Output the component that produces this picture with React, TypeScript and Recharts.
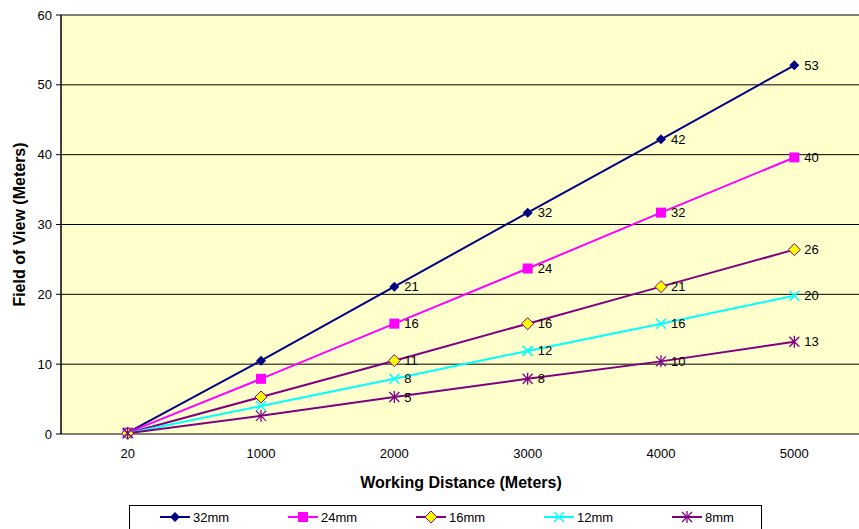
import React from 'react';
import { LineChart, Line, XAxis, YAxis, CartesianGrid, LabelList } from 'recharts';

// working distance categories (meters)
const categories = ['20', '1000', '2000', '3000', '4000', '5000'];
const fov32 = [0.2, 10.5, 21.1, 31.7, 42.2, 52.8];
const fov24 = [0.2, 7.9, 15.8, 23.7, 31.7, 39.6];
const fov16 = [0.1, 5.3, 10.5, 15.8, 21.1, 26.4];
const fov12 = [0.1, 4.0, 7.9, 11.9, 15.8, 19.8];
const fov8 = [0.1, 2.6, 5.3, 7.9, 10.4, 13.2];
const yTicks = [0, 10, 20, 30, 40, 50, 60];

const data = categories.map((c, i) => ({
  idx: i,
  dist: c,
  s32: fov32[i],
  s24: fov24[i],
  s16: fov16[i],
  s12: fov12[i],
  s8: fov8[i],
}));

const bandEdges = [-0.5, 0.5, 1.5, 2.5, 3.5, 4.5, 5.5];
const FONT = '"Liberation Sans", Arial, sans-serif';

type Kind = 'diamond' | 'square' | 'yellowDiamond' | 'cross' | 'star';

const series: { key: string; name: string; color: string; kind: Kind }[] = [
  { key: 's32', name: '32mm', color: '#000080', kind: 'diamond' },
  { key: 's24', name: '24mm', color: '#FF00FF', kind: 'square' },
  { key: 's16', name: '16mm', color: '#800080', kind: 'yellowDiamond' },
  { key: 's12', name: '12mm', color: '#00FFFF', kind: 'cross' },
  { key: 's8', name: '8mm', color: '#800080', kind: 'star' },
];

function Marker({ kind, cx, cy, color }: { kind: Kind; cx: number; cy: number; color: string }) {
  if (cx == null || cy == null) return null;
  switch (kind) {
    case 'diamond':
      return <polygon points={`${cx},${cy - 5} ${cx + 5},${cy} ${cx},${cy + 5} ${cx - 5},${cy}`} fill={color} />;
    case 'square':
      return <rect x={cx - 5} y={cy - 5} width={10} height={10} fill={color} />;
    case 'yellowDiamond':
      return (
        <polygon
          points={`${cx},${cy - 6} ${cx + 6},${cy} ${cx},${cy + 6} ${cx - 6},${cy}`}
          fill="#FFFF00"
          stroke={color}
          strokeWidth={1}
        />
      );
    case 'cross':
      return (
        <g stroke={color} strokeWidth={1.5}>
          <line x1={cx - 5} y1={cy - 5} x2={cx + 5} y2={cy + 5} />
          <line x1={cx - 5} y1={cy + 5} x2={cx + 5} y2={cy - 5} />
        </g>
      );
    case 'star':
      return (
        <g stroke={color} strokeWidth={1.3}>
          <line x1={cx - 5} y1={cy - 5} x2={cx + 5} y2={cy + 5} />
          <line x1={cx - 5} y1={cy + 5} x2={cx + 5} y2={cy - 5} />
          <line x1={cx} y1={cy - 6} x2={cx} y2={cy + 6} />
        </g>
      );
  }
  return null;
}

function ValueLabel(props: any) {
  const { index, value } = props;
  if (index < 2) return null;
  const x = props.x ?? props.viewBox?.x;
  const y = props.y ?? props.viewBox?.y;
  return (
    <text x={x + 10} y={y} dy="0.35em" fontSize={13} fill="#000" fontFamily={FONT}>
      {Math.round(value)}
    </text>
  );
}

function LegendBox() {
  return (
    <div
      style={{
        position: 'absolute',
        left: 129,
        top: 505,
        width: 633,
        height: 40,
        border: '1px solid #000',
        background: '#fff',
        boxSizing: 'border-box',
      }}
    >
      <svg width={633} height={30}>
        {series.map((s, i) => {
          const x0 = 30 + i * 128;
          return (
            <g key={s.key}>
              <line x1={x0} y1={11} x2={x0 + 30} y2={11} stroke={s.color} strokeWidth={2} />
              <Marker kind={s.kind} cx={x0 + 15} cy={11} color={s.color} />
              <text x={x0 + 33} y={11} dy="0.35em" fontSize={13} fontFamily={FONT} fill="#000">
                {s.name}
              </text>
            </g>
          );
        })}
      </svg>
    </div>
  );
}

export default function App() {
  return (
    <div
      style={{
        position: 'fixed',
        left: 0,
        top: 0,
        width: 859,
        height: 529,
        overflow: 'hidden',
        background: '#fff',
      }}
    >
      <LineChart width={866} height={529} data={data} margin={{ top: 15, right: 5, bottom: 35, left: 0 }}>
        <CartesianGrid vertical={false} stroke="#000" strokeWidth={1} fill="#FFFFCC" fillOpacity={1} />
        <XAxis
          xAxisId="edges"
          type="number"
          dataKey="idx"
          domain={[-0.5, 5.5]}
          ticks={bandEdges}
          tick={false}
          height={0}
          tickSize={5}
          axisLine={{ stroke: '#000', strokeWidth: 1.5 }}
          tickLine={{ stroke: '#000', strokeWidth: 1 }}
          allowDataOverflow
        />
        <XAxis
          xAxisId="cat"
          type="number"
          dataKey="idx"
          domain={[-0.5, 5.5]}
          ticks={[0, 1, 2, 3, 4, 5]}
          tickFormatter={(v: number) => categories[v]}
          tickLine={false}
          axisLine={false}
          tickSize={6}
          tickMargin={9}
          height={60}
          tick={{ fill: '#000', fontSize: 13, fontFamily: FONT }}
          label={{
            value: 'Working Distance (Meters)',
            position: 'insideBottom',
            offset: 6,
            style: { fontWeight: 'bold', fontSize: 16, fill: '#000', fontFamily: FONT },
          }}
          allowDataOverflow
        />
        <YAxis
          domain={[0, 60]}
          ticks={yTicks}
          width={61}
          tickSize={5}
          tickMargin={4}
          axisLine={{ stroke: '#000', strokeWidth: 1.5 }}
          tickLine={{ stroke: '#000' }}
          tick={{ fill: '#000', fontSize: 13, fontFamily: FONT }}
          label={{
            value: 'Field of View (Meters)',
            angle: -90,
            position: 'insideLeft',
            offset: 19,
            style: { textAnchor: 'middle', fontWeight: 'bold', fontSize: 16, fill: '#000', fontFamily: FONT },
          }}
        />
        {series.map((s) => (
          <Line
            key={s.key}
            xAxisId="cat"
            dataKey={s.key}
            name={s.name}
            type="linear"
            stroke={s.color}
            strokeWidth={2}
            isAnimationActive={false}
            dot={(p: any) => <Marker key={`${s.key}-${p.index}`} kind={s.kind} cx={p.cx} cy={p.cy} color={s.color} />}
            activeDot={false}
          >
            <LabelList dataKey={s.key} content={ValueLabel} />
          </Line>
        ))}
      </LineChart>
      <LegendBox />
    </div>
  );
}
